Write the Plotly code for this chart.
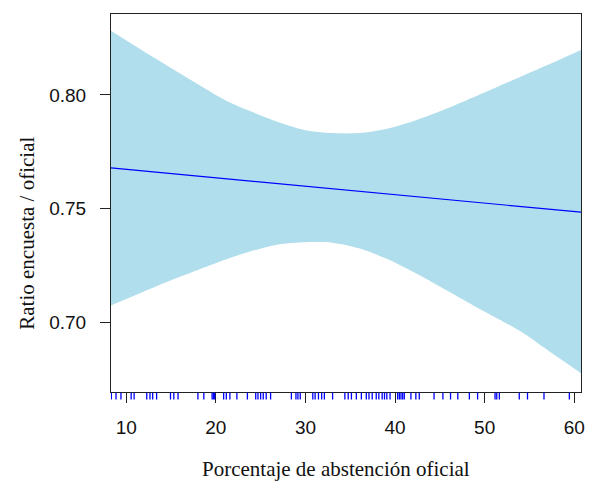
import plotly.graph_objects as go

# Confidence band
band_x = [8.3, 11, 15, 18, 21, 24, 27, 30, 33, 36, 39, 42, 45, 48, 51, 54, 57, 60.75]
band_upper = [0.8282, 0.8215, 0.8118, 0.8047, 0.7978, 0.7926, 0.7880, 0.7845, 0.7832,
              0.7832, 0.7850, 0.7884, 0.7928, 0.7977, 0.8028, 0.8080, 0.8132, 0.8198]
band_lower = [0.7074, 0.7119, 0.7185, 0.7230, 0.7275, 0.7313, 0.7342, 0.7352, 0.7350,
              0.7325, 0.7280, 0.7222, 0.7157, 0.7090, 0.7025, 0.6960, 0.6878, 0.6776]

# Fitted line
fit_x = [8.3, 60.75]
fit_y = [0.7679, 0.7484]

# Rug of observed abstention values
rug_x = [8.34, 8.86, 9.41, 10.55, 10.88, 12.29, 12.65, 12.95, 13.39, 14.94, 15.31, 15.78,
         18.0, 18.66, 19.58, 19.73, 19.87, 20.87, 21.17, 21.57, 22.35, 23.52, 24.45, 24.7,
         25.0, 25.29, 25.62, 26.11, 28.43, 28.94, 29.16, 29.42, 30.82, 31.08, 31.45, 31.81,
         32.11, 33.03, 34.4, 34.77, 35.13, 35.68, 36.24, 36.79, 37.09, 37.45, 37.9, 38.19,
         38.56, 38.82, 39.08, 39.44, 40.29, 40.48, 40.66, 40.85, 41.03, 41.77, 42.32, 42.7,
         44.35, 45.34, 46.19, 47.0, 48.29, 49.21, 51.16, 51.35, 51.64, 53.86, 54.78, 56.62,
         59.45]

x_ticks = [10, 20, 30, 40, 50, 60]
y_ticks = [0.70, 0.75, 0.80]
y_ticklabels = ["0.70", "0.75", "0.80"]

x_range = [8.3, 60.75]
y_range = [0.6693, 0.8356]

# layout geometry (pixels)
W, H = 595, 482
plot_top, plot_bottom, rug_bottom = 14, 392, 400
area_h = rug_bottom - plot_top
split = (rug_bottom - plot_bottom) / area_h

# rug segments built from rug_x
rug_sx, rug_sy = [], []
for v in rug_x:
    rug_sx += [v, v, None]
    rug_sy += [0.06, 0.92, None]

fig = go.Figure()
fig.add_trace(go.Scatter(x=band_x, y=band_upper, mode="lines",
                         line=dict(width=0, color="#ADD8E6", shape="spline", smoothing=0.8),
                         hoverinfo="skip", showlegend=False))
fig.add_trace(go.Scatter(x=band_x, y=band_lower, mode="lines",
                         line=dict(width=0, color="#ADD8E6", shape="spline", smoothing=0.8),
                         fill="tonexty", fillcolor="#B0DEEC", hoverinfo="skip", showlegend=False))
fig.add_trace(go.Scatter(x=fit_x, y=fit_y, mode="lines", line=dict(width=1.2, color="#0000FF"),
                         showlegend=False))
fig.add_trace(go.Scatter(x=rug_sx, y=rug_sy, mode="lines", yaxis="y2",
                         line=dict(width=1.3, color="#0000FF"), showlegend=False, hoverinfo="skip"))

axis_common = dict(showline=True, mirror=True, linecolor="#222", linewidth=1, ticks="outside",
                   ticklen=10, tickcolor="#222", tickwidth=1, showgrid=False, zeroline=False,
                   tickfont=dict(family="Liberation Sans, Arial", size=19, color="#111"))

fig.update_layout(
    width=W, height=H,
    margin=dict(l=111, r=10, t=plot_top, b=H - rug_bottom),
    plot_bgcolor="rgba(0,0,0,0)", paper_bgcolor="white",
    xaxis=dict(range=x_range, tickvals=x_ticks, ticktext=[str(v) for v in x_ticks],
               ticklabelstandoff=8, anchor="y", **axis_common),
    yaxis=dict(range=y_range, tickvals=y_ticks, ticktext=y_ticklabels, domain=[split, 1],
               ticklabelstandoff=10, **axis_common),
    yaxis2=dict(range=[0, 1], domain=[0, split], visible=False, anchor="x",
                showgrid=False, zeroline=False),
    annotations=[
        dict(text="Porcentaje de abstención oficial", xref="paper", yref="paper",
             x=(338 - 111) / 474, y=(rug_bottom - 469) / area_h, xanchor="center", yanchor="middle",
             showarrow=False, font=dict(family="Liberation Serif, Times New Roman", size=21, color="#111")),
        dict(text="Ratio encuesta / oficial", xref="paper", yref="paper",
             x=(26 - 111) / 474, y=(rug_bottom - 233) / area_h, xanchor="center", yanchor="middle",
             textangle=-90, showarrow=False,
             font=dict(family="Liberation Serif, Times New Roman", size=21, color="#111")),
    ],
)

fig.write_html("out.html")
